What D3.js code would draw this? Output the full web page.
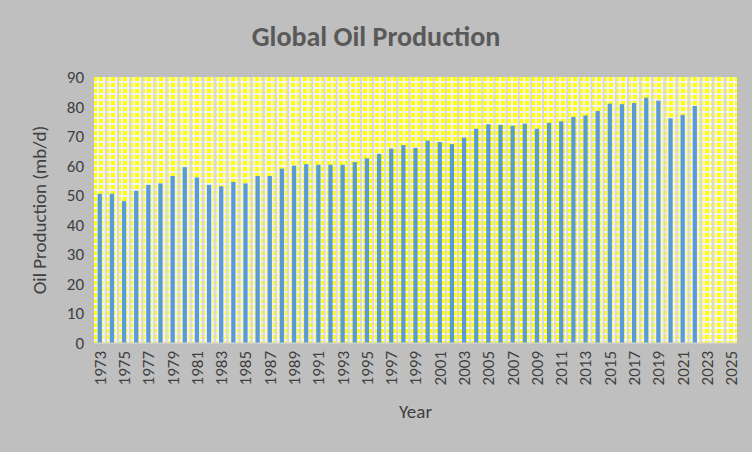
<!DOCTYPE html>
<html><head><meta charset="utf-8">
<script src="https://cdn.jsdelivr.net/npm/d3@7"></script>
<style>body{margin:0;background:#bfbfbf}</style>
</head><body><div id="chart"></div>
<script>
const years = d3.range(1973, 2026)
const dataYears = d3.range(1973, 2023)
const production = [50.5,50.5,48,51.5,53.5,54,56.5,59.5,56,53.5,53,54.5,54,56.5,56.5,59,60,60.5,60.3,60.3,
  60.3,61.2,62.5,64,65.8,67,66,68.5,68,67.3,69.5,72.5,74,73.8,73.5,74.2,72.5,74.5,75,76.5,
  77,78.5,81,80.8,81.2,83,82,76,77.2,80.2]
const yTicks = d3.range(0, 91, 10)

const W = 752, H = 452
const M = {LEFT:94, RIGHT:15, TOP:77, BOTTOM:109}
const w = W - M.LEFT - M.RIGHT, h = H - M.TOP - M.BOTTOM

const svg = d3.select("#chart").append("svg").attr("width", W).attr("height", H)
svg.append("rect").attr("width", W).attr("height", H).attr("fill", "#bfbfbf")

const defs = svg.append("defs")
const pat = defs.append("pattern").attr("id","grid").attr("patternUnits","userSpaceOnUse")
  .attr("width",6).attr("height",6).attr("x",M.LEFT).attr("y",M.TOP)
pat.append("rect").attr("width",6).attr("height",6).attr("fill","#f2f2f2")
pat.append("rect").attr("x",1).attr("y",1).attr("width",4).attr("height",4).attr("fill","#ffff00")

const font = "Calibri, Carlito, 'Open Sans', sans-serif"

svg.append("text").attr("x", 376).attr("y", 46).attr("text-anchor","middle")
  .attr("font-family", font).attr("font-weight","bold")
  .attr("font-size","28px").attr("fill","#595959").text("Global Oil Production")

const g = svg.append("g").attr("transform", `translate(${M.LEFT},${M.TOP})`)
g.append("rect").attr("width", w).attr("height", h).attr("fill", "url(#grid)")

const x = d3.scaleBand().domain(years).range([0, w]).paddingInner(0.65).paddingOuter(0.3)
const y = d3.scaleLinear().domain([0, 90]).range([h, 0])

// vertical gray lines between categories
g.selectAll(".vline").data(years.slice(1)).enter().append("line")
  .attr("x1", d => x(d) - x.step()*x.paddingInner()/2).attr("x2", d => x(d) - x.step()*x.paddingInner()/2)
  .attr("y1", 0).attr("y2", h).attr("stroke", "#d9d9d9").attr("stroke-width", 2)

g.selectAll(".bar").data(dataYears).enter().append("rect")
  .attr("x", d => x(d)).attr("width", x.bandwidth())
  .attr("y", (d,i) => y(production[i])).attr("height", (d,i) => h - y(production[i]))
  .attr("fill", "#5b9bd5")

g.append("line").attr("x1",0).attr("x2",w).attr("y1",h).attr("y2",h).attr("stroke","#d9d9d9")

const yAxis = g.append("g").call(d3.axisLeft(y).tickValues(yTicks).tickSize(0).tickPadding(10))
yAxis.select(".domain").remove()
yAxis.selectAll("text").attr("font-family", font).attr("font-size","17px").attr("fill","#404040")

const xAxis = g.append("g").attr("transform", `translate(0,${h})`)
  .call(d3.axisBottom(x).tickValues(years.filter(d => d % 2 === 1)).tickSize(0))
xAxis.select(".domain").remove()
xAxis.selectAll("text").attr("font-family", font).attr("font-size","17px").attr("fill","#404040")
  .attr("transform","rotate(-90)").attr("text-anchor","end").attr("x",-8).attr("y",0).attr("dy","0.35em")

svg.append("text").attr("x", M.LEFT + w/2).attr("y", 418).attr("text-anchor","middle")
  .attr("font-family", font).attr("font-size","19px").attr("fill","#404040").text("Year")
svg.append("text").attr("transform", `translate(46,${M.TOP + h/2}) rotate(-90)`).attr("text-anchor","middle")
  .attr("font-family", font).attr("font-size","19px").attr("fill","#404040").text("Oil Production (mb/d)")
</script></body></html>
